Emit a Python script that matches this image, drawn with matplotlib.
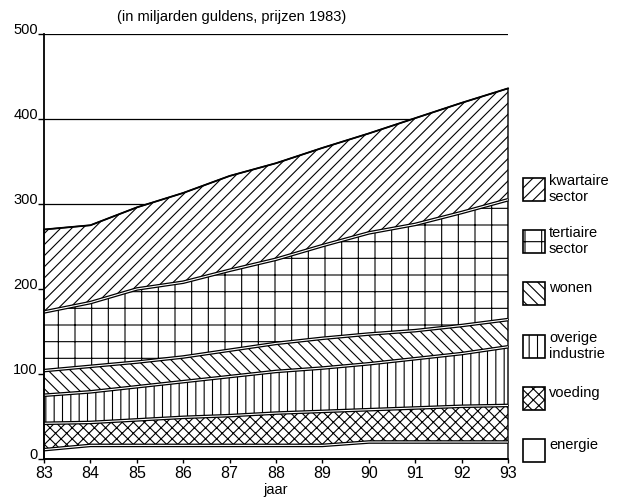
import numpy as np
import matplotlib
matplotlib.use('Agg')
import matplotlib.pyplot as plt
from matplotlib.patches import Rectangle

# toegevoegde waarde per sector (in miljarden guldens, prijzen 1983)
jaren = [83, 84, 85, 86, 87, 88, 89, 90, 91, 92, 93]
energie = [11, 16, 16, 16, 16, 16, 16, 20, 20, 20, 20]
voeding = [31, 27, 30, 33, 35, 38, 40, 38, 40, 42, 43]
overige_industrie = [33, 36, 39, 42, 46, 49, 51, 54, 58, 62, 69]
wonen = [29, 30, 29, 29, 31, 33, 35, 35, 33, 33, 32]
tertiaire_sector = [69, 75, 86, 88, 94, 99, 109, 119, 125, 133, 141]
kwartaire_sector = [97, 91, 96, 105, 111, 113, 115, 117, 125, 129, 131]

namen = ['energie', 'voeding', 'overige\nindustrie', 'wonen', 'tertiaire\nsector', 'kwartaire\nsector']
arceringen = ['', 'xxx', '||', '\\\\\\', '+', '///']
reeksen = [energie, voeding, overige_industrie, wonen, tertiaire_sector, kwartaire_sector]
yticks = [0, 100, 200, 300, 400, 500]

plt.rcParams['font.family'] = ['Liberation Sans', 'DejaVu Sans']
plt.rcParams['hatch.linewidth'] = 0.8

W, H = 621, 497
fig = plt.figure(figsize=(W / 100, H / 100), dpi=100)
ax = fig.add_axes([44 / W, 1 - 459 / H, (508 - 44) / W, (459 - 34) / H])

for y in yticks[1:]:
    ax.axhline(y, color='k', lw=0.9, zorder=0)

onder = np.zeros(len(jaren))
grenzen = []
for waarden, arcering in zip(reeksen, arceringen):
    boven = onder + np.array(waarden)
    ax.fill_between(jaren, onder, boven, facecolor='white', edgecolor='k',
                    hatch=arcering, linewidth=1.0, zorder=2, clip_on=False)
    grenzen.append(boven)
    onder = boven

# dubbele scheidingslijnen tussen de lagen
for grens in grenzen[:-1]:
    ax.plot(jaren, grens, color='k', lw=2.6, zorder=3, solid_capstyle='butt', clip_on=False)
    ax.plot(jaren, grens, color='white', lw=0.8, zorder=3.1, solid_capstyle='butt', clip_on=False)
ax.plot(jaren, grenzen[-1], color='k', lw=1.3, zorder=3, clip_on=False)

ax.set_xlim(83, 93)
ax.set_ylim(0, 500)
ax.set_xticks(jaren)
ax.set_yticks(yticks)
ax.tick_params(axis='x', direction='out', length=3, width=1, labelsize=11.5, pad=2)
ax.tick_params(axis='y', direction='out', length=4.5, width=1, labelsize=10.5, pad=0)
for lab in ax.get_yticklabels():
    lab.set_verticalalignment('baseline')
for s in ['top', 'right']:
    ax.spines[s].set_visible(False)
for s in ['left', 'bottom']:
    ax.spines[s].set_linewidth(1.3)
    ax.spines[s].set_zorder(4)

fig.text(232 / W, 1 - 17 / H, '(in miljarden guldens, prijzen 1983)',
         ha='center', va='center', fontsize=10.5)
fig.text(276 / W, 1 - 490 / H, 'jaar', ha='center', va='center', fontsize=10.5)

# legenda
bw, bh = 22, 23
centra = [189, 241, 293, 346, 398, 450]
for naam, arcering, yc in zip(namen[::-1], arceringen[::-1], centra):
    fig.add_artist(Rectangle((523 / W, 1 - (yc + bh / 2) / H), bw / W, bh / H,
                             transform=fig.transFigure, facecolor='white',
                             edgecolor='k', hatch=arcering, lw=1.2))
    dy = 0 if '\n' in naam else -5
    fig.text(549 / W, 1 - (yc + dy) / H, naam, ha='left', va='center',
             fontsize=10.5, linespacing=1.25)

fig.savefig('out.png', dpi=100)
